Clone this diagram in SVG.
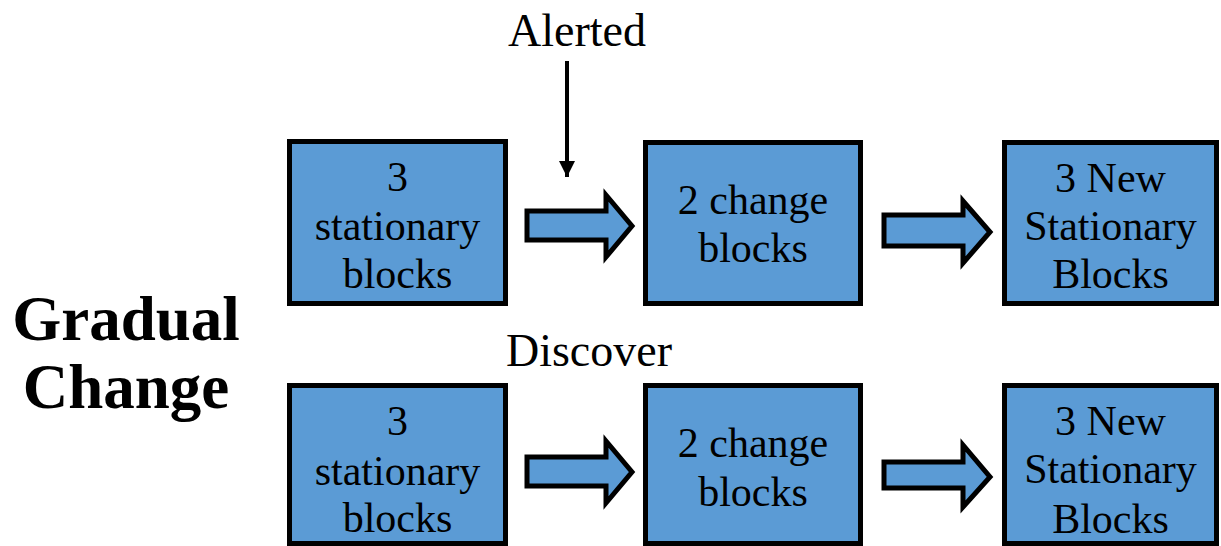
<svg xmlns="http://www.w3.org/2000/svg" width="1221" height="546" viewBox="0 0 1221 546">
<style>
.box{fill:#5B9BD5;stroke:#000;stroke-width:5}
.barrow{fill:#5B9BD5;stroke:#000;stroke-width:5;stroke-linejoin:miter}
.t{font-family:"Liberation Serif","Times New Roman",serif;font-size:42px;fill:#000;text-anchor:middle}
.lbl{font-family:"Liberation Serif","Times New Roman",serif;font-size:46px;fill:#000;text-anchor:middle}
.title{font-family:"Liberation Serif","Times New Roman",serif;font-size:63px;font-weight:bold;fill:#000;text-anchor:middle}
</style>
<defs>
<marker id="ah" viewBox="0 0 10 10" refX="10" refY="5" markerWidth="4" markerHeight="4" orient="auto" markerUnits="strokeWidth">
<path d="M0,0 L10,5 L0,10 z" fill="#000"/>
</marker>
</defs>
<g id="title">
<text class="title" x="126" y="340">Gradual</text>
<text class="title" x="126" y="408">Change</text>
</g>
<g id="label-alerted"><text class="lbl" x="577" y="46">Alerted</text></g>
<g id="label-discover"><text class="lbl" x="589" y="366">Discover</text></g>
<g id="r1b1">
<rect class="box" x="289.5" y="141.5" width="216" height="162"/>
<text class="t" x="397.5" y="191">3</text>
<text class="t" x="397.5" y="240">stationary</text>
<text class="t" x="397.5" y="288">blocks</text>
</g>
<g id="r1b2">
<rect class="box" x="645.5" y="142.5" width="215" height="161"/>
<text class="t" x="753" y="214">2 change</text>
<text class="t" x="753" y="262">blocks</text>
</g>
<g id="r1b3">
<rect class="box" x="1004.5" y="142.5" width="212" height="161"/>
<text class="t" x="1110.5" y="192">3 New</text>
<text class="t" x="1110.5" y="240">Stationary</text>
<text class="t" x="1110.5" y="288">Blocks</text>
</g>
<g id="r2b1">
<rect class="box" x="289.5" y="385.5" width="216" height="158"/>
<text class="t" x="397.5" y="435">3</text>
<text class="t" x="397.5" y="485">stationary</text>
<text class="t" x="397.5" y="532">blocks</text>
</g>
<g id="r2b2">
<rect class="box" x="645.5" y="385.5" width="215" height="158"/>
<text class="t" x="753" y="457">2 change</text>
<text class="t" x="753" y="506">blocks</text>
</g>
<g id="r2b3">
<rect class="box" x="1004.5" y="385.5" width="212" height="158"/>
<text class="t" x="1110.5" y="435">3 New</text>
<text class="t" x="1110.5" y="483">Stationary</text>
<text class="t" x="1110.5" y="533">Blocks</text>
</g>
<g id="connectors">
<path class="barrow" d="M527,211 H606 V195 L632,226 L606,257 V240 H527 Z"/>
<path class="barrow" d="M884,215 H963 V201 L990,232 L963,263 V246 H884 Z"/>
<path class="barrow" d="M527,457 H606 V441 L632,472 L606,503 V486 H527 Z"/>
<path class="barrow" d="M884,462 H963 V445 L990,477 L963,507 V488 H884 Z"/>
<line x1="567" y1="61" x2="567" y2="177" stroke="#000" stroke-width="4" marker-end="url(#ah)"/>
</g>
</svg>
